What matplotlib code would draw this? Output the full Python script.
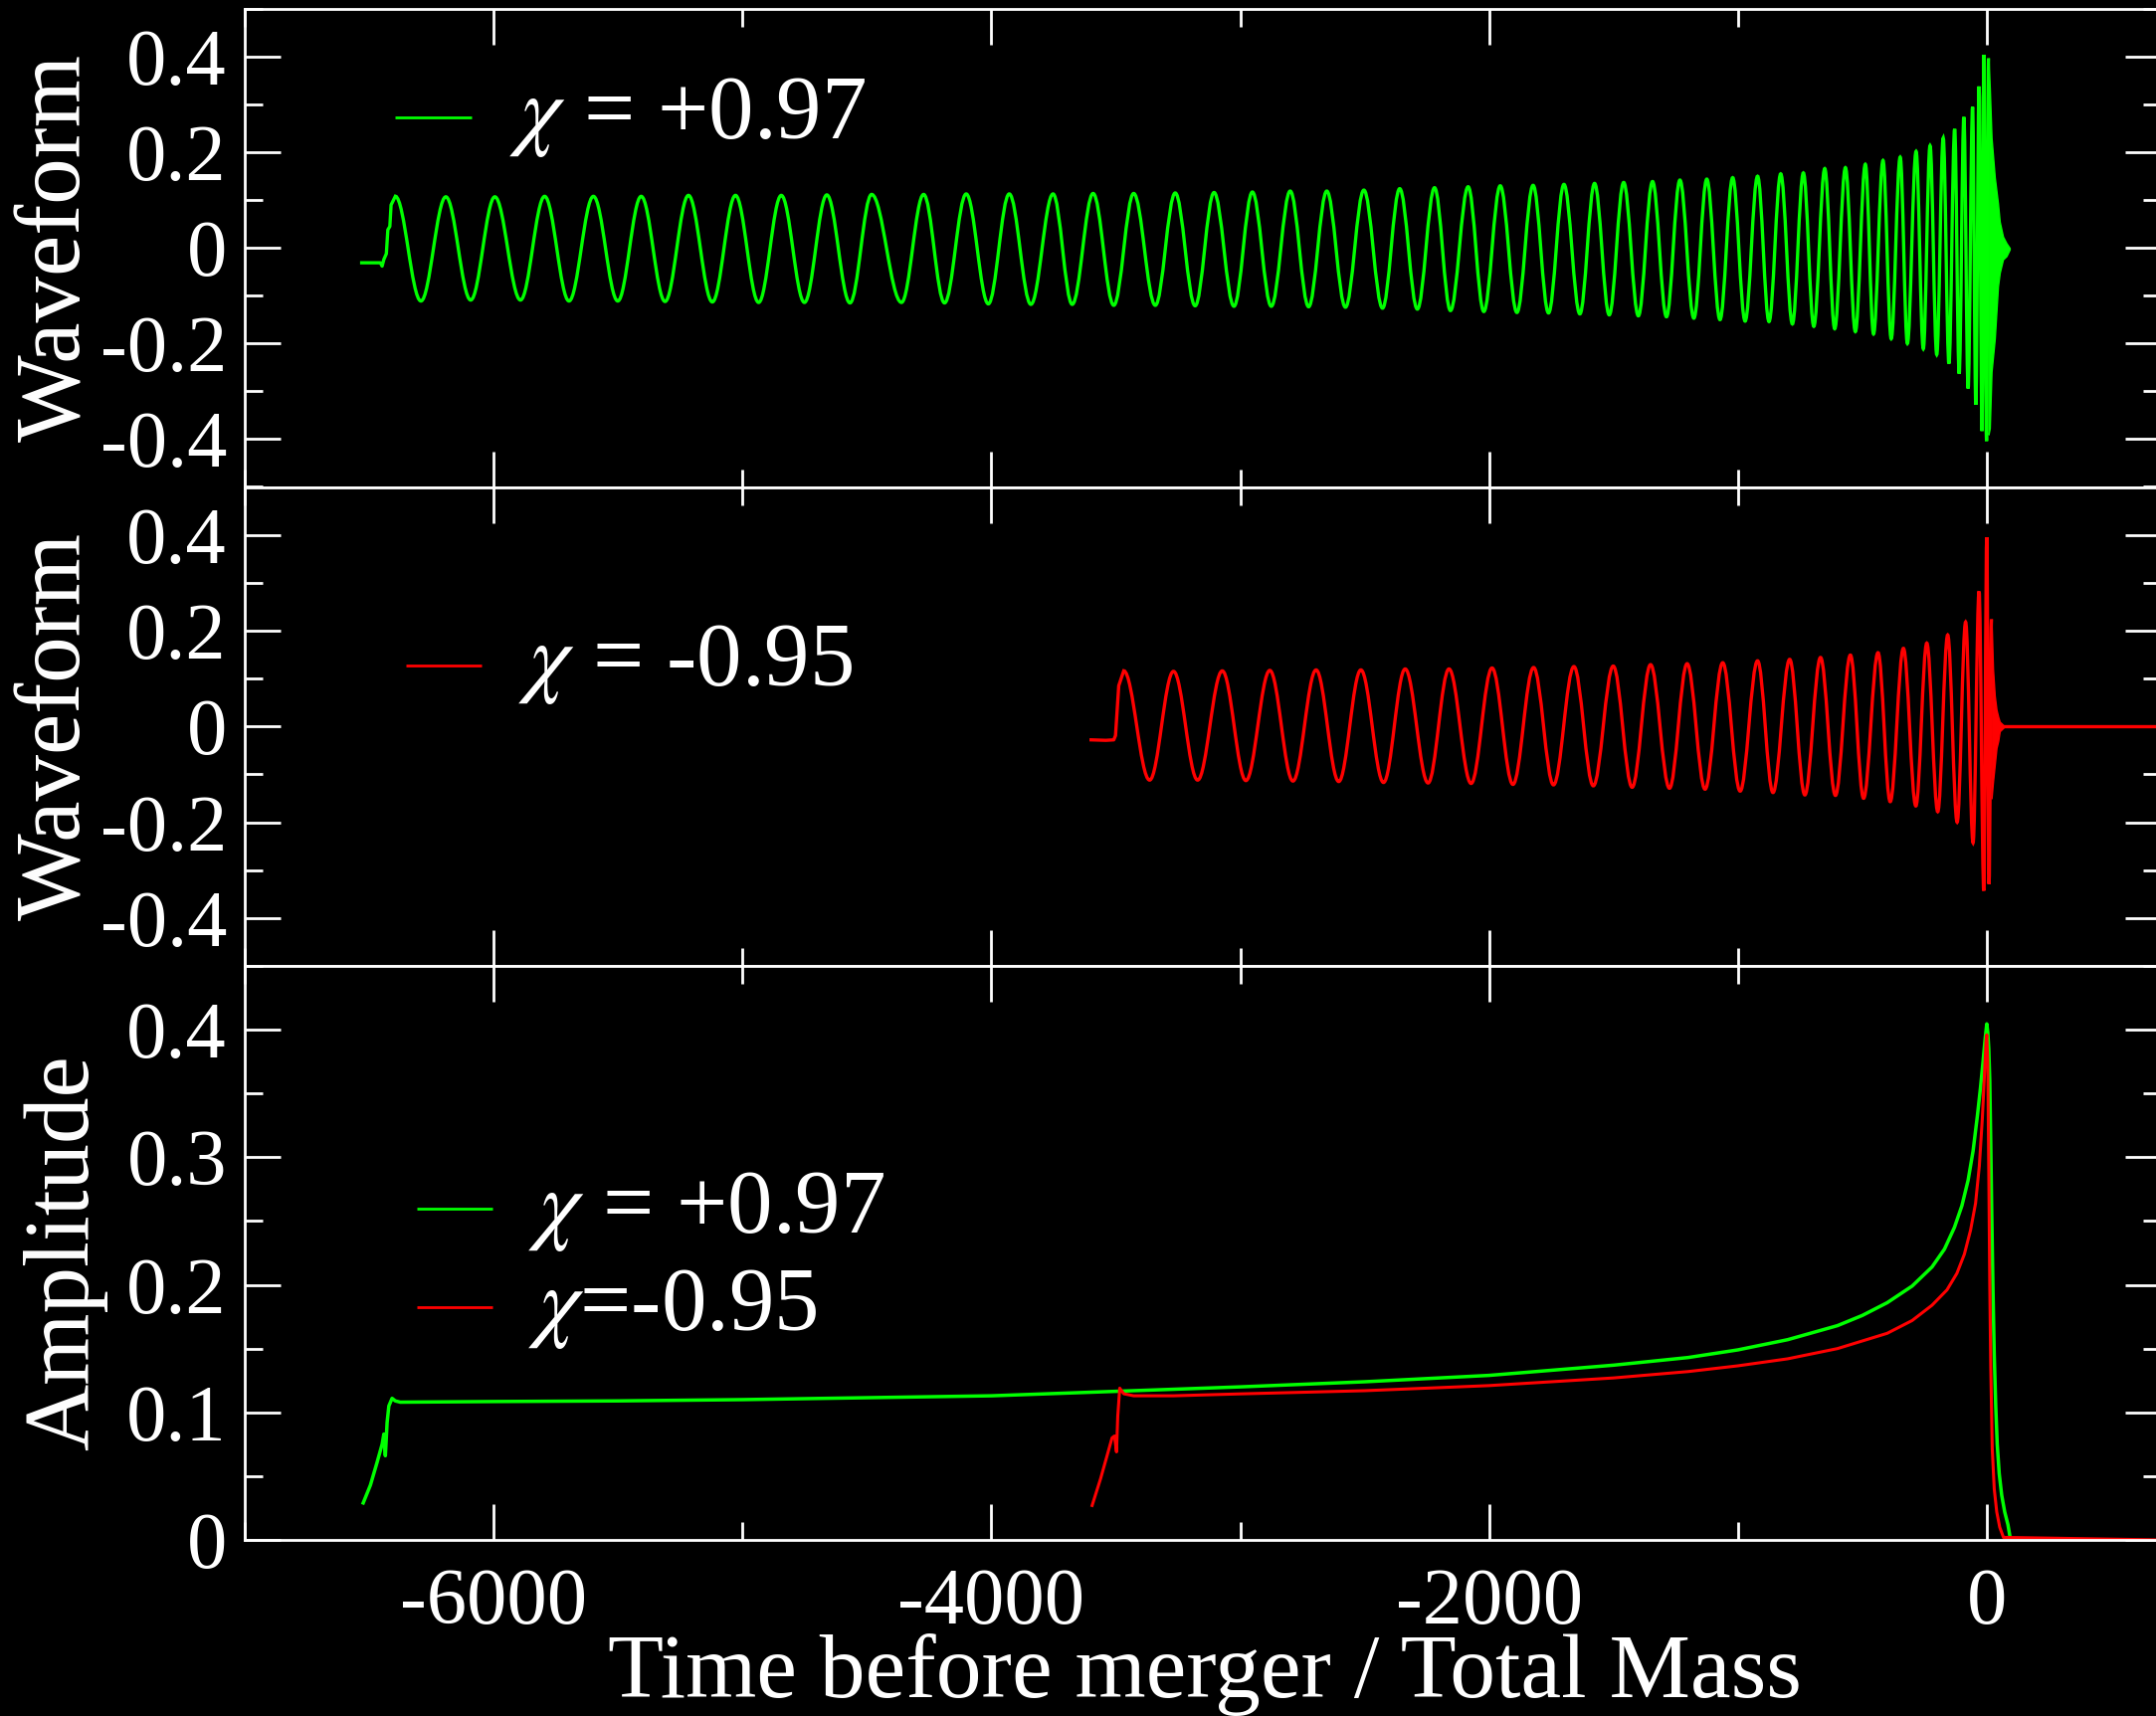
import numpy as np
import matplotlib
matplotlib.use("Agg")
import matplotlib.pyplot as plt
from matplotlib.path import Path
from matplotlib.patches import PathPatch
from matplotlib.ticker import MultipleLocator, FuncFormatter

plt.rcParams['font.family'] = ['Liberation Serif', 'STIXGeneral', 'DejaVu Serif']
plt.rcParams['mathtext.fontset'] = 'stix'
plt.rcParams['axes.unicode_minus'] = False

GREEN = '#00ff00'
RED = '#ff0000'

# chi = +0.97 : junk at the start of the run
green_start_t = [-6530, -6455, -6448, -6441, -6431, -6425, -6417, -6412, -6395]
green_start_h = [-0.031, -0.031, -0.038, -0.024, -0.012, 0.038, 0.045, 0.090, 0.108]

# chi = +0.97 : successive maxima / minima of the waveform
green_t = [
    -6395, -6292, -6192, -6092, -5995, -5892, -5795, -5697, -5599, -5501, -5407,
    -5311, -5217, -5121, -5028, -4935, -4844, -4751, -4661, -4568, -4481,
    -4361, -4272, -4188, -4101, -4012, -3928, -3841, -3752, -3675, -3591, -3508,
    -3428, -3341, -3261, -3181, -3105, -3025, -2951, -2875, -2799, -2725, -2652,
    -2577, -2503, -2428,
    -2359, -2288, -2219, -2155, -2084, -2021, -1955, -1888, -1823, -1761, -1699,
    -1635, -1576, -1517, -1459, -1400, -1343, -1287, -1233, -1177, -1125, -1072,
    -1021, -971, -921, -875, -828,
    -781, -737, -695, -651, -611, -568, -528, -488, -455, -417, -384, -348, -319,
    -284, -255, -228, -201, -175, -152, -129, -111, -92, -75, -57, -44, -31, -19,
    -12, -1, 7]
green_h = [
    0.108, -0.111, 0.107, -0.109, 0.107, -0.109, 0.108, -0.111, 0.108, -0.111, 0.108,
    -0.112, 0.110, -0.113, 0.110, -0.114, 0.110, -0.114, 0.111, -0.115, 0.112,
    -0.114, 0.112, -0.115, 0.113, -0.117, 0.113, -0.118, 0.113, -0.118, 0.114, -0.120,
    0.114, -0.120, 0.115, -0.121, 0.116, -0.122, 0.117, -0.122, 0.119, -0.123, 0.119,
    -0.124, 0.121, -0.126,
    0.124, -0.128, 0.126, -0.131, 0.128, -0.133, 0.130, -0.135, 0.131, -0.136, 0.133,
    -0.138, 0.135, -0.140, 0.137, -0.142, 0.139, -0.144, 0.142, -0.147, 0.144, -0.150,
    0.147, -0.153, 0.150, -0.154, 0.155,
    -0.159, 0.157, -0.164, 0.166, -0.169, 0.168, -0.175, 0.175, -0.180, 0.183, -0.190,
    0.190, -0.200, 0.202, -0.211, 0.214, -0.223, 0.230, -0.242, 0.249, -0.263, 0.274,
    -0.294, 0.295, -0.328, 0.338, -0.383, 0.404, -0.404, 0.397]

# chi = +0.97 : ringdown envelope
green_rd_t = [7, 12, 19, 32, 45, 52, 65, 79, 92]
green_rd_hi = [0.397, 0.335, 0.231, 0.148, 0.093, 0.055, 0.024, 0.010, 0.0]
green_rd_lo = [-0.390, -0.377, -0.259, -0.190, -0.080, -0.052, -0.024, -0.017, -0.003]

# chi = -0.95
red_start_t = [-3599, -3540, -3508, -3501, -3488, -3468]
red_start_h = [-0.028, -0.029, -0.028, -0.019, 0.085, 0.116]

red_t = [
    -3468, -3364, -3268, -3171, -3072, -2977, -2881, -2788, -2695, -2604, -2515,
    -2424, -2337, -2245, -2161, -2072, -1988, -1904, -1821, -1741, -1659, -1581,
    -1501, -1425, -1351, -1275, -1204, -1132, -1061, -991, -921, -859, -792, -731,
    -668, -608, -548, -495, -437, -388, -335, -285, -241, -197, -157, -119, -85,
    -55, -31, -12, 0, 9, 19]
red_h = [
    0.116, -0.112, 0.115, -0.112, 0.116, -0.113, 0.117, -0.114, 0.118, -0.115, 0.118,
    -0.117, 0.120, -0.118, 0.120, -0.119, 0.122, -0.121, 0.123, -0.122, 0.125, -0.124,
    0.126, -0.127, 0.129, -0.129, 0.131, -0.131, 0.133, -0.135, 0.137, -0.138, 0.140,
    -0.143, 0.144, -0.144, 0.149, -0.150, 0.154, -0.157, 0.163, -0.166, 0.174, -0.178,
    0.191, -0.200, 0.218, -0.243, 0.282, -0.343, 0.395, -0.329, 0.224]

red_rd_t = [19, 25, 32, 39, 46, 52, 72]
red_rd_hi = [0.224, 0.120, 0.064, 0.035, 0.020, 0.010, 0.0]
red_rd_lo = [-0.150, -0.115, -0.080, -0.045, -0.030, -0.010, 0.0]
red_tail_t = [72, 700]
red_tail_h = [0.0, 0.0]

# amplitudes
green_amp_t = [-6524, -6495, -6468, -6448, -6441, -6435, -6428, -6421, -6408, -6395,
               -6375, -6000, -5500, -5000, -4500, -4000, -3500, -3000, -2500, -2000,
               -1500, -1200, -1000, -800, -600, -500, -400, -300, -220, -170, -130,
               -100, -75, -55, -38, -25, -15, -7, 0, 4, 8, 12, 16, 20, 25, 30, 36,
               42, 50, 60, 72, 85, 92]
green_amp = [0.029, 0.043, 0.061, 0.075, 0.083, 0.066, 0.092, 0.105, 0.111, 0.109,
             0.108, 0.1085, 0.109, 0.110, 0.1115, 0.113, 0.1165, 0.120, 0.124, 0.129,
             0.137, 0.143, 0.149, 0.157, 0.168, 0.176, 0.186, 0.199, 0.214, 0.228,
             0.245, 0.262, 0.282, 0.305, 0.332, 0.355, 0.375, 0.392, 0.4046, 0.398,
             0.385, 0.360, 0.310, 0.255, 0.195, 0.145, 0.105, 0.075, 0.052, 0.035,
             0.022, 0.012, 0.004]

red_amp_t = [-3595, -3561, -3535, -3515, -3505, -3497, -3492, -3484, -3468, -3428,
             -3268, -3000, -2500, -2000, -1500, -1200, -1000, -800, -600, -400, -300,
             -220, -160, -120, -90, -65, -45, -30, -18, -9, -3, 0, 4, 8, 12, 16, 22,
             30, 40, 52, 67, 700]
red_amp = [0.027, 0.048, 0.066, 0.080, 0.0815, 0.069, 0.097, 0.119, 0.1146, 0.113,
           0.113, 0.1145, 0.117, 0.121, 0.127, 0.132, 0.1365, 0.142, 0.150, 0.162,
           0.172, 0.184, 0.196, 0.209, 0.224, 0.243, 0.264, 0.293, 0.330, 0.366,
           0.391, 0.396, 0.375, 0.290, 0.200, 0.135, 0.0715, 0.040, 0.022, 0.010,
           0.002, 0.0]


def wave_path(t, h, k=1 - 2 / np.pi):
    # half-cosine shaped cubic segments between neighbouring extrema
    verts = [(t[0], h[0])]
    codes = [Path.MOVETO]
    for i in range(1, len(t)):
        dt = t[i] - t[i - 1]
        verts += [(t[i - 1] + k * dt, h[i - 1]), (t[i] - k * dt, h[i]), (t[i], h[i])]
        codes += [Path.CURVE4] * 3
    return Path(verts, codes)


def fmt(v, pos):
    return '%g' % (round(v, 6) + 0.0)


def style(ax):
    ax.set_facecolor('black')
    for s in ax.spines.values():
        s.set_color('white')
        s.set_linewidth(2.0)
    ax.tick_params(which='both', direction='in', colors='white', top=True,
                   right=True, width=2.0, labelsize=58)
    ax.tick_params(which='major', length=26)
    ax.tick_params(which='minor', length=13)
    ax.tick_params(axis='y', pad=13)
    ax.tick_params(axis='x', pad=20)
    ax.set_xlim(-7000, 700)
    ax.xaxis.set_major_locator(MultipleLocator(2000))
    ax.xaxis.set_minor_locator(MultipleLocator(1000))
    ax.xaxis.set_major_formatter(FuncFormatter(fmt))
    ax.yaxis.set_major_formatter(FuncFormatter(fmt))


W, H = 2167, 1725
fig = plt.figure(figsize=(W / 100, H / 100), dpi=100, facecolor='black')
left = 246 / W
width = (2172 - 246) / W
ax1 = fig.add_axes([left, (H - 489.5) / H, width, 480.5 / H])
ax2 = fig.add_axes([left, (H - 971) / H, width, 481.5 / H])
ax3 = fig.add_axes([left, (H - 1548) / H, width, 577 / H])


def legend_entry(ax, color, label, x0, x1, y_line, x_text, y_text):
    # grace-style legend entry, positions given in pixels from the top-left corner
    inv = ax.transAxes.inverted()
    (a0, b0), (a1, _) = inv.transform([(x0, H - y_line), (x1, H - y_line)])
    tx, ty = inv.transform((x_text, H - y_text))
    ax.plot([a0, a1], [b0, b0], color=color, lw=2, transform=ax.transAxes,
            solid_capstyle='butt')
    ax.text(tx, ty, label, transform=ax.transAxes, color='white', fontsize=65.5,
            ha='left', va='baseline')


lw = 2.4

for ax in (ax1, ax2):
    style(ax)
    ax.set_ylim(-0.5, 0.5)
    ax.yaxis.set_major_locator(MultipleLocator(0.2))
    ax.yaxis.set_minor_locator(MultipleLocator(0.1))
    ax.tick_params(labelbottom=False)
    ax.set_ylabel('Waveform', fontsize=67, color='white')
    ax.yaxis.set_label_coords(-0.0758, 0.5)

# top panel: chi = +0.97 waveform
ax1.plot(green_start_t, green_start_h, color=GREEN, lw=lw)
ax1.add_patch(PathPatch(wave_path(green_t, green_h), fill=False, edgecolor=GREEN, lw=lw))
ax1.fill_between(green_rd_t, green_rd_lo, green_rd_hi, color=GREEN, lw=1)
legend_entry(ax1, GREEN, r'$\chi$ = +0.97', 397, 474, 118, 512, 139)

# middle panel: chi = -0.95 waveform
ax2.plot(red_start_t, red_start_h, color=RED, lw=lw)
ax2.add_patch(PathPatch(wave_path(red_t, red_h), fill=False, edgecolor=RED, lw=lw))
ax2.fill_between(red_rd_t, red_rd_lo, red_rd_hi, color=RED, lw=1)
ax2.plot(red_tail_t, red_tail_h, color=RED, lw=lw)
legend_entry(ax2, RED, r'$\chi$ = -0.95', 408, 484, 669, 521, 689)

# bottom panel: amplitudes
style(ax3)
ax3.set_ylim(0, 0.45)
ax3.yaxis.set_major_locator(MultipleLocator(0.1))
ax3.yaxis.set_minor_locator(MultipleLocator(0.05))
ax3.plot(green_amp_t, green_amp, color=GREEN, lw=2.5)
ax3.plot(red_amp_t, red_amp, color=RED, lw=2.2)
legend_entry(ax3, GREEN, r'$\chi$ = +0.97', 419, 495, 1215, 531, 1239)
legend_entry(ax3, RED, r'$\chi$=-0.95', 419, 495, 1314, 531, 1337)
ax3.set_ylabel('Amplitude', fontsize=67, color='white')
ax3.yaxis.set_label_coords(-0.0715, 0.5)
ax3.set_xlabel('Time before merger / Total Mass', fontsize=66, color='white')
ax3.xaxis.set_label_coords(0.501, -0.163)

fig.savefig('out.png', dpi=100, facecolor='black')
